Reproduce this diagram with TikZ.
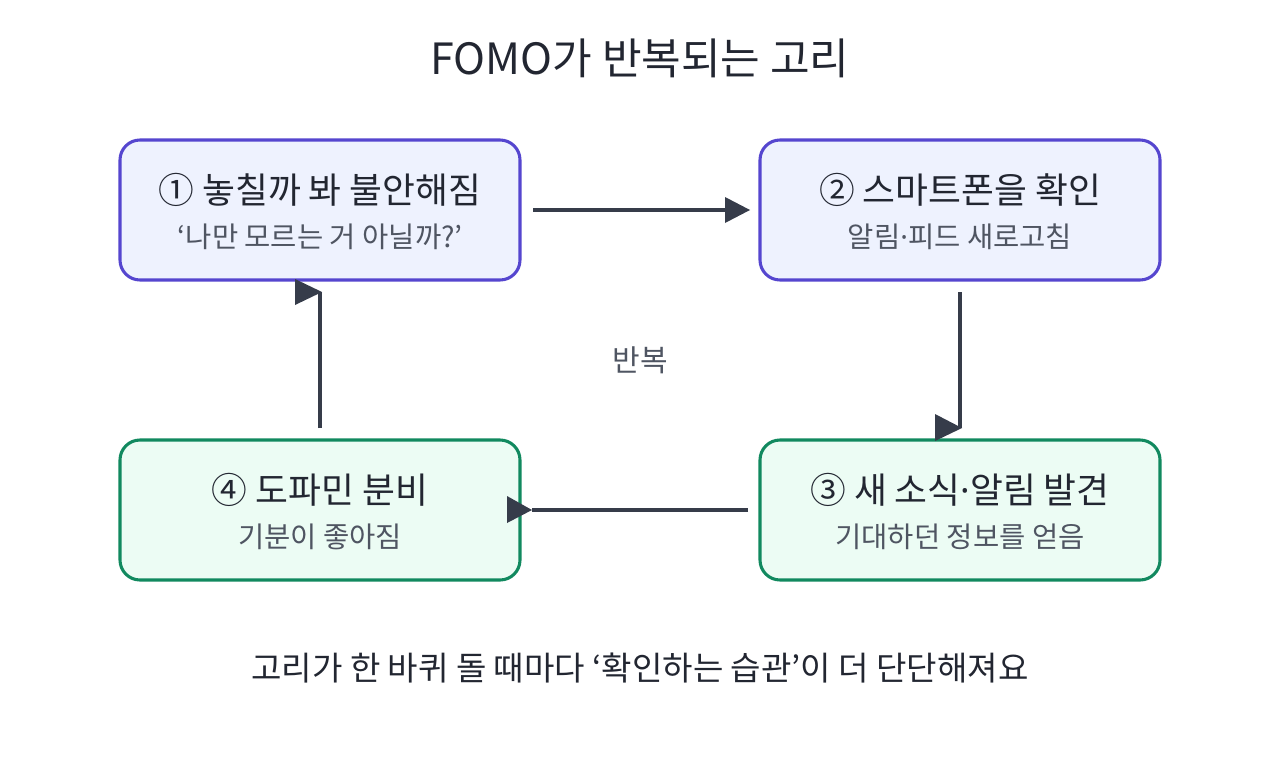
\documentclass[tikz,border=0pt]{standalone}
\usepackage{fontspec}
\setmainfont{Noto Sans CJK KR}
\newfontfamily\latinf{Noto Sans}
\newcommand{\mdot}{{\latinf ·}}
\begin{document}
\begin{tikzpicture}[x=0.75pt,y=-0.75pt,
  stepbox/.style={draw, line width=2.3pt, rounded corners=15pt, minimum width=300pt, minimum height=105pt, inner sep=0pt, align=center},
  purplebox/.style={stepbox, draw=boxpurple, fill=fillpurple},
  greenbox/.style={stepbox, draw=boxgreen, fill=fillgreen},
  conn/.style={draw=arrowgray, line width=3pt},
  tip/.style={fill=arrowgray, draw=none},
  ttl/.style={font=\fontsize{26.8}{31}\selectfont, text=textdark},
  sub/.style={font=\fontsize{21.4}{25}\selectfont, text=textgray}
]
\definecolor{boxpurple}{HTML}{5546CF}
\definecolor{fillpurple}{HTML}{EEF2FE}
\definecolor{boxgreen}{HTML}{11895F}
\definecolor{fillgreen}{HTML}{ECFCF4}
\definecolor{arrowgray}{HTML}{363C4A}
\definecolor{textdark}{HTML}{222631}
\definecolor{textgray}{HTML}{4F5562}
\useasboundingbox (0,0) rectangle (1280,760);
\fill[white] (0,0) rectangle (1280,760);

\node[font=\fontsize{32.3}{38}\selectfont, text=textdark] (title) at (640,58) {FOMO가 반복되는 고리};

\node[purplebox] (b1) at (320,210) {};
\node[purplebox] (b2) at (960,210) {};
\node[greenbox] (b3) at (960,510) {};
\node[greenbox] (b4) at (320,510) {};

\node[ttl] (t1) at (320,190) {① 놓칠까 봐 불안해짐};
\node[sub] (s1) at (320,237) {‘나만 모르는 거 아닐까?’};
\node[ttl] (t2) at (960,190) {② 스마트폰을 확인};
\node[sub] (s2) at (960,237) {알림\mdot 피드 새로고침};
\node[ttl] (t3) at (960,490) {③ 새 소식\mdot 알림 발견};
\node[sub] (s3) at (960,537) {기대하던 정보를 얻음};
\node[ttl] (t4) at (320,490) {④ 도파민 분비};
\node[sub] (s4) at (320,537) {기분이 좋아짐};

\node[font=\fontsize{22.5}{26}\selectfont, text=textgray] (loop) at (640,360) {반복};
\node[font=\fontsize{24.8}{29}\selectfont, text=textdark] (note) at (640,668) {고리가 한 바퀴 돌 때마다 ‘확인하는 습관’이 더 단단해져요};

% connector end points
\coordinate (a1s) at (533,210);
\coordinate (a1e) at (750,210);
\coordinate (a2s) at (960,292);
\coordinate (a2e) at (960,428);
\coordinate (a3s) at (748,510);
\coordinate (a3e) at (532,510);
\coordinate (a4s) at (320,428);
\coordinate (a4e) at (320,292);

\draw[conn] (a1s) -- ([xshift=-18.75pt]a1e);
\fill[tip] (a1e) -- ++(-25,-13) -- ++(0,26) -- cycle;
\draw[conn] (a2s) -- (a2e);
\fill[tip] ([xshift=1.5pt]a2e) -- ++(-27,-14) -- ++(0,27) -- cycle;
\draw[conn] (a3s) -- (a3e);
\fill[tip] (a3e) -- ++(-25,-14) -- ++(0,27) -- cycle;
\draw[conn] (a4s) -- (a4e);
\fill[tip] ([xshift=1.5pt]a4e) -- ++(-27,-13) -- ++(0,26) -- cycle;
\end{tikzpicture}
\end{document}
